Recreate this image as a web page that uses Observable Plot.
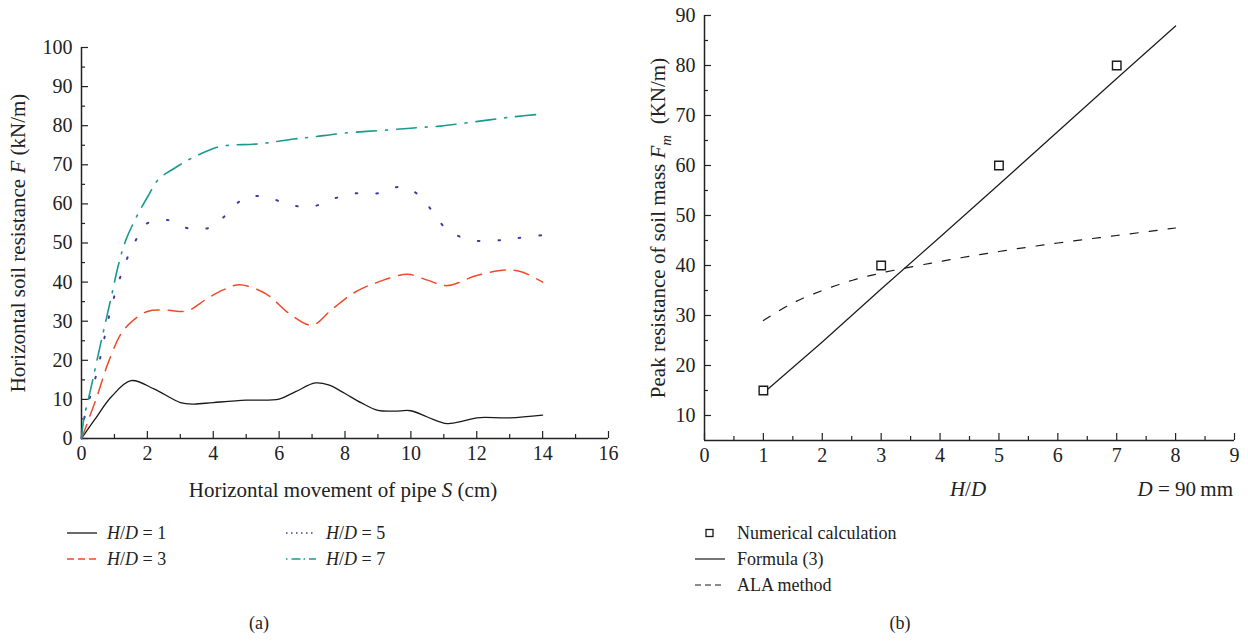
<!DOCTYPE html>
<html>
<head>
<meta charset="utf-8">
<script src="https://cdn.jsdelivr.net/npm/d3@7"></script>
<script src="https://cdn.jsdelivr.net/npm/@observablehq/plot@0.6"></script>
<style>
  body { margin:0; background:#fff; width:1248px; height:642px; position:relative; overflow:hidden;
         font-family:"Liberation Serif", "DejaVu Serif", serif; color:#222; }
  .panel { position:absolute; top:0; width:624px; height:642px; }
  #pa { left:0; } #pb { left:624px; }
  .panel svg.plot { position:absolute; left:0; top:0; }
  .leg { position:absolute; font-size:18px; height:22px; line-height:22px; white-space:nowrap; }
  .leg svg { position:absolute; top:0; }
  .leg span { position:absolute; top:0; }
  .cap { position:absolute; font-size:18px; top:613px; transform:translateX(-50%); }
  i { font-style:italic; }
</style>
</head>
<body>
<div class="panel" id="pa"></div>
<div class="panel" id="pb"></div>
<script>
// ---------- Panel (a): horizontal soil resistance vs pipe movement ----------
const s1 = [0, 0.4, 0.9, 1.5, 2.2, 3.0, 3.4, 4.0, 5.0, 6.0, 6.5, 7.1, 7.5, 8.0, 8.5, 9.0, 9.5, 10.0, 10.5, 11.1, 11.6, 12.0, 13.0, 14.0];
const f1 = [0, 4.8, 10.6, 14.8, 12.7, 9.2, 8.8, 9.2, 9.8, 10.1, 12.0, 14.2, 13.7, 11.5, 9.1, 7.2, 7.0, 7.1, 5.5, 3.8, 4.5, 5.3, 5.3, 6.0];

const s3 = [0, 0.17, 0.5, 0.78, 1.2, 1.5, 2.0, 2.6, 3.2, 3.8, 4.3, 4.8, 5.6, 6.3, 7.0, 7.6, 8.3, 9.0, 9.9, 10.5, 11.1, 12.0, 12.9, 13.4, 14.0];
const f3 = [0, 3.8, 11.5, 18.7, 26.8, 29.7, 32.5, 32.8, 32.6, 35.7, 38.0, 39.3, 37.0, 32.0, 29.0, 33.0, 37.4, 40.0, 42.0, 40.5, 39.1, 41.7, 43.1, 42.5, 40.0];

const s5 = [0, 0.07, 0.48, 0.93, 1.34, 1.64, 1.97, 2.6, 3.26, 3.92, 4.43, 4.98, 5.64, 6.3, 7.0, 7.64, 8.33, 9.0, 9.7, 10.22, 10.69, 11.1, 11.8, 12.5, 13.16, 14.0];
const f5 = [0, 4.6, 17.4, 34.4, 45.1, 50.6, 54.9, 55.9, 53.7, 54.0, 57.5, 61.7, 61.7, 59.8, 59.3, 61.3, 62.7, 62.7, 64.4, 62.4, 57.7, 53.4, 50.8, 50.6, 51.2, 52.0];

const s7 = [0, 0.07, 0.27, 0.58, 0.88, 1.13, 1.34, 1.64, 2.0, 2.35, 2.8, 3.21, 3.62, 4.12, 4.63, 5.1, 5.64, 6.45, 7.0, 7.97, 9.44, 10.2, 10.9, 12.38, 13.14, 14.0];
const f7 = [0, 5.0, 12.3, 24.2, 35.3, 44.7, 50.6, 56.2, 61.7, 66.4, 69.0, 71.1, 72.8, 74.5, 75.1, 75.2, 75.6, 76.6, 77.1, 78.1, 79.0, 79.5, 79.9, 81.5, 82.3, 83.0];

const seriesNamesA = ["H/D = 1", "H/D = 3", "H/D = 5", "H/D = 7"];
const xTicksA = [0, 2, 4, 6, 8, 10, 12, 14, 16];
const xMinorA = [1, 3, 5, 7, 9, 11, 13, 15];
const yTicksA = [0, 10, 20, 30, 40, 50, 60, 70, 80, 90, 100];
const yMinorA = [5, 15, 25, 35, 45, 55, 65, 75, 85, 95];

// ---------- Panel (b): peak resistance vs H/D ----------
const numHD = [1, 3, 5, 7];
const numF = [15, 40, 60, 80];
const formulaHD = [1, 2, 3, 4, 5, 6, 7, 8];
const formulaF = [14.5, 24.7, 35.3, 45.7, 56.2, 66.8, 77.4, 87.9];
const alaHD = [1, 1.5, 2, 2.5, 3, 4, 5, 6, 7, 8];
const alaF = [29.0, 32.5, 35.0, 37.0, 38.5, 40.8, 42.8, 44.5, 46.0, 47.5];
const seriesNamesB = ["Numerical calculation", "Formula (3)", "ALA method"];
const xTicksB = [0, 1, 2, 3, 4, 5, 6, 7, 8, 9];
const xMinorB = [0.5, 1.5, 2.5, 3.5, 4.5, 5.5, 6.5, 7.5, 8.5];
const yTicksB = [10, 20, 30, 40, 50, 60, 70, 80, 90];
const yMinorB = [15, 25, 35, 45, 55, 65, 75, 85];

const rows = (xs, ys) => xs.map((x, i) => ({x, y: ys[i]}));

const colors = {h1: "#1a1a1a", h3: "#f04a2a", h5: "#3c3ca0", h7: "#1a9a8e"};
const dashes = {h1: null, h3: "15,9", h5: "1.6,19", h7: "20,9,2,9"};

const fontStyle = {fontFamily: "'Liberation Serif', serif", fontSize: "20px", color: "#222", background: "white", overflow: "visible"};
const noText = () => "";

function axes(xt, xm, yt, ym) {
  return [
    Plot.axisX({ticks: xt, tickSize: -7, tickFormat: noText, label: null, strokeWidth: 1.2}),
    Plot.axisX({ticks: xm, tickSize: -4, tickFormat: noText, label: null, strokeWidth: 1.2}),
    Plot.axisY({ticks: yt, tickSize: -7, tickFormat: noText, label: null, strokeWidth: 1.2}),
    Plot.axisY({ticks: ym, tickSize: -4, tickFormat: noText, label: null, strokeWidth: 1.2}),
    Plot.axisX({ticks: xt, tickSize: 0, tickPadding: 7, label: null, tickFormat: d => String(d)}),
    Plot.axisY({ticks: yt, tickSize: 0, tickPadding: 9, label: null, tickFormat: d => String(d)})
  ];
}

const svgA = Plot.plot({
  width: 624, height: 505,
  marginLeft: 81, marginRight: 16, marginTop: 47, marginBottom: 67,
  style: fontStyle,
  x: {domain: [0, 16]},
  y: {domain: [0, 100]},
  marks: [
    ...axes(xTicksA, xMinorA, yTicksA, yMinorA),
    Plot.ruleX([0], {stroke: "#222", strokeWidth: 1.5}),
    Plot.ruleY([0], {stroke: "#222", strokeWidth: 1.5}),
    Plot.line(rows(s1, f1), {x: "x", y: "y", stroke: colors.h1, strokeWidth: 1.3, curve: "catmull-rom"}),
    Plot.line(rows(s3, f3), {x: "x", y: "y", stroke: colors.h3, strokeWidth: 1.5, strokeDasharray: dashes.h3, curve: "catmull-rom"}),
    Plot.line(rows(s5, f5), {x: "x", y: "y", stroke: colors.h5, strokeWidth: 2, strokeDasharray: dashes.h5, curve: "catmull-rom"}),
    Plot.line(rows(s7, f7), {x: "x", y: "y", stroke: colors.h7, strokeWidth: 1.6, strokeDasharray: dashes.h7, curve: "catmull-rom"})
  ]
});
svgA.classList.add("plot");
document.getElementById("pa").appendChild(svgA);

const svgB = Plot.plot({
  width: 624, height: 505,
  marginLeft: 80, marginRight: 14, marginTop: 15, marginBottom: 65,
  style: fontStyle,
  x: {domain: [0, 9]},
  y: {domain: [5, 90]},
  marks: [
    ...axes(xTicksB, xMinorB, yTicksB, yMinorB),
    Plot.ruleX([0], {stroke: "#222", strokeWidth: 1.5}),
    Plot.ruleY([5], {stroke: "#222", strokeWidth: 1.5}),
    Plot.line(rows(formulaHD, formulaF), {x: "x", y: "y", stroke: "#1a1a1a", strokeWidth: 1.2}),
    Plot.line(rows(alaHD, alaF), {x: "x", y: "y", stroke: "#1a1a1a", strokeWidth: 1.2, strokeDasharray: "8,11", curve: "catmull-rom"}),
    Plot.dot(rows(numHD, numF), {x: "x", y: "y", symbol: "square", r: 4.8, stroke: "#1a1a1a", fill: "white", strokeWidth: 1.4})
  ]
});
svgB.classList.add("plot");
document.getElementById("pb").appendChild(svgB);

// Axis titles with italic parts
function addText(svg, x, y, rotate, anchor, parts) {
  const t = d3.select(svg).append("text")
    .attr("transform", `translate(${x},${y})` + (rotate ? ` rotate(${rotate})` : ""))
    .attr("text-anchor", anchor)
    .attr("dominant-baseline", "central")
    .attr("fill", "#222")
    .style("font-size", "21px");
  for (const p of parts) {
    const ts = t.append("tspan").text(p.t);
    if (p.i) ts.style("font-style", "italic");
    if (p.sub) ts.attr("baseline-shift", "sub").style("font-size", "15px");
  }
}
addText(svgA, 18, 243, -90, "middle", [{t: "Horizontal soil resistance "}, {t: "F", i: 1}, {t: " (kN/m)"}]);
addText(svgA, 343, 490, 0, "middle", [{t: "Horizontal movement of pipe "}, {t: "S", i: 1}, {t: " (cm)"}]);
addText(svgB, 34, 228, -90, "middle", [{t: "Peak resistance of soil mass "}, {t: "F", i: 1}, {t: "m", i: 1, sub: 1}, {t: "  (KN/m)"}]);
addText(svgB, 344, 489, 0, "middle", [{t: "H", i: 1}, {t: "/"}, {t: "D", i: 1}]);
addText(svgB, 609, 489, 0, "end", [{t: "D", i: 1}, {t: " = 90\u2009mm"}]);

// Legends
function legendItem(panel, left, top, sample, labelHTML, textLeft) {
  const d = document.createElement("div");
  d.className = "leg";
  d.style.left = left + "px";
  d.style.top = top + "px";
  d.innerHTML = sample + `<span style="left:${textLeft}px">${labelHTML}</span>`;
  document.getElementById(panel).appendChild(d);
}
const lineSample = (c, dash, w) => `<svg width="30" height="22"><line x1="0" x2="30" y1="11" y2="11" stroke="${c}" stroke-width="${w}" ${dash ? `stroke-dasharray="${dash}"` : ""}/></svg>`;
const hd = n => `<i>H</i>/<i>D</i> = ${n}`;
legendItem("pa", 67, 522, lineSample(colors.h1, null, 1.3), hd(1), 40);
legendItem("pa", 67, 548, lineSample(colors.h3, "7,4", 1.5), hd(3), 40);
legendItem("pa", 286, 522, lineSample(colors.h5, "1.5,3.5", 1.6), hd(5), 40);
legendItem("pa", 286, 548, lineSample(colors.h7, "1.5,4,9,3", 1.6), hd(7), 40);

legendItem("pb", 71, 522, `<svg width="30" height="22"><rect x="11" y="7.5" width="7" height="7" fill="white" stroke="#1a1a1a" stroke-width="1.3"/></svg>`, seriesNamesB[0], 42);
legendItem("pb", 71, 548, lineSample("#1a1a1a", null, 1.2), seriesNamesB[1], 42);
legendItem("pb", 71, 574, lineSample("#1a1a1a", "6,4", 1.2), seriesNamesB[2], 42);

const capA = document.createElement("div"); capA.className = "cap"; capA.style.left = "259px"; capA.textContent = "(a)";
document.getElementById("pa").appendChild(capA);
const capB = document.createElement("div"); capB.className = "cap"; capB.style.left = "276px"; capB.textContent = "(b)";
document.getElementById("pb").appendChild(capB);
</script>
</body>
</html>
